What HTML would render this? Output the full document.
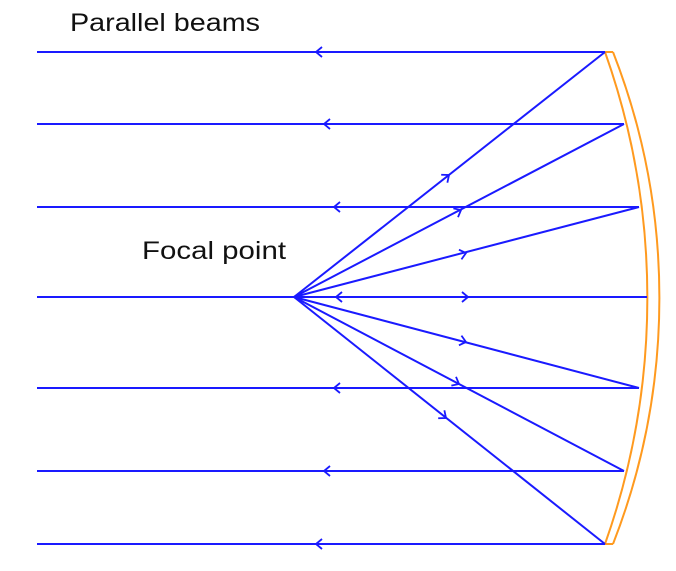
<!DOCTYPE html>
<html><head><style>
html,body{margin:0;padding:0;background:#fff;}
svg{display:block;}
text{font-family:"Liberation Sans",sans-serif;font-size:25px;fill:#111;}
</style></head><body>
<svg width="676" height="571" viewBox="0 0 676 571" xmlns="http://www.w3.org/2000/svg">
<g stroke="#ff9a1f" stroke-width="2" fill="none">
<path d="M605,52 A735.6,735.6 0 0 1 605,544"/>
<path d="M613,52 A675.4,675.4 0 0 1 613,544"/>
<line x1="605" y1="52" x2="613" y2="52"/>
<line x1="605" y1="544" x2="613" y2="544"/>
</g>
<g stroke="#1a1aff" stroke-width="2" fill="none">
<line x1="37" y1="52" x2="605" y2="52"/>
<line x1="37" y1="124" x2="624" y2="124"/>
<line x1="37" y1="207" x2="639" y2="207"/>
<line x1="37" y1="297" x2="647" y2="297"/>
<line x1="37" y1="388" x2="639" y2="388"/>
<line x1="37" y1="471" x2="624" y2="471"/>
<line x1="37" y1="544" x2="605" y2="544"/>
<line x1="294" y1="297" x2="605" y2="52"/>
<line x1="294" y1="297" x2="624" y2="124"/>
<line x1="294" y1="297" x2="639" y2="207"/>
<line x1="294" y1="297" x2="639" y2="388"/>
<line x1="294" y1="297" x2="624" y2="471"/>
<line x1="294" y1="297" x2="605" y2="544"/>
<g stroke-width="1.8">
<polyline points="6,-5 0,0 6,5" transform="translate(316,52)"/>
<polyline points="6,-5 0,0 6,5" transform="translate(324,124)"/>
<polyline points="6,-5 0,0 6,5" transform="translate(334,207)"/>
<polyline points="6,-5 0,0 6,5" transform="translate(336,297)"/>
<polyline points="-6,-5 0,0 -6,5" transform="translate(468,297)"/>
<polyline points="6,-5 0,0 6,5" transform="translate(334,388)"/>
<polyline points="6,-5 0,0 6,5" transform="translate(324,471)"/>
<polyline points="6,-5 0,0 6,5" transform="translate(316,544)"/>
<polyline points="-6,-5 0,0 -6,5" transform="translate(449,175) rotate(-38.2)"/>
<polyline points="-6,-5 0,0 -6,5" transform="translate(461,210) rotate(-27.7)"/>
<polyline points="-6,-5 0,0 -6,5" transform="translate(466,253) rotate(-14.6)"/>
<polyline points="-6,-5 0,0 -6,5" transform="translate(466,342) rotate(14.6)"/>
<polyline points="-6,-5 0,0 -6,5" transform="translate(459,384) rotate(27.7)"/>
<polyline points="-6,-5 0,0 -6,5" transform="translate(446,418) rotate(38.2)"/>
</g>
</g>
<text x="70" y="31" textLength="190" lengthAdjust="spacingAndGlyphs">Parallel beams</text>
<text x="142" y="259" textLength="144" lengthAdjust="spacingAndGlyphs">Focal point</text>
</svg>
</body></html>
